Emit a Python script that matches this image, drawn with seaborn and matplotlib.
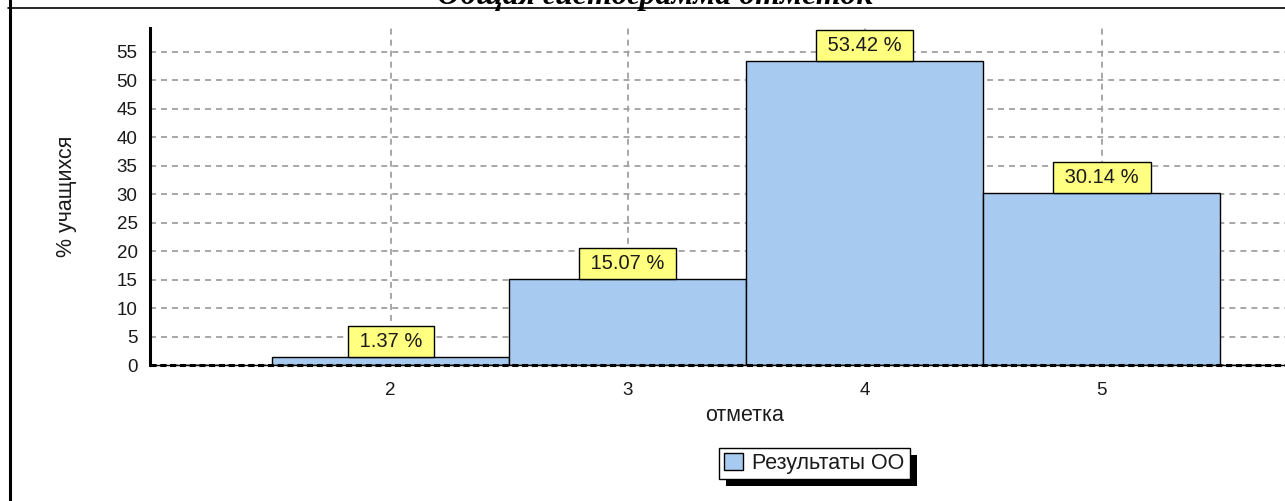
import matplotlib
matplotlib.use('Agg')
import matplotlib.pyplot as plt
from matplotlib.lines import Line2D
from matplotlib.patches import Rectangle
from matplotlib.ticker import MultipleLocator
import seaborn as sns
import pandas as pd

# ---------------------------------------------------------------
# Data.

grades = [2, 3, 4, 5]                       # отметка
percent = [1.37, 15.07, 53.42, 30.14]       # % учащихся
series_name = 'Результаты ОО'
title = 'Общая гистограмма отметок'
x_label = 'отметка'
y_label = '% учащихся'

df = pd.DataFrame({'grade': grades, 'percent': percent})

# ---------------------------------------------------------------
# Style.

sns.set_theme(style='white')
plt.rcParams['font.family'] = ['Liberation Sans', 'DejaVu Sans']
text_color = '#1a1a1a'
bar_color = '#a6caf0'
label_size = 15.5
value_size = 14.5

W, H = 1285, 501
fig = plt.figure(figsize=(W / 100, H / 100), dpi=100)
ax = fig.add_axes([150 / W, 136 / H, 1189 / W, 337 / H])

# Histogram bars (one bar per grade, height = percent).
sns.histplot(data=df, x='grade', weights='percent', discrete=True,
             color=bar_color, alpha=1, edgecolor='black', linewidth=1,
             label=series_name, ax=ax, zorder=2)

ax.set_xlim(0.985, 6.0)
ax.set_ylim(0, 59.2)

ax.set_xticks(grades)
ax.xaxis.set_minor_locator(MultipleLocator(0.25))
ax.yaxis.set_major_locator(MultipleLocator(5))
ax.yaxis.set_minor_locator(MultipleLocator(1))

ax.tick_params(axis='both', which='major', length=5, width=1, color='black',
               labelsize=13.5, labelcolor=text_color, direction='out')
ax.tick_params(axis='both', which='minor', length=2.5, width=0.8,
               color='#555555', direction='out')
ax.tick_params(axis='x', which='major', pad=7.5)
ax.tick_params(axis='y', which='major', pad=4)

ax.grid(True, which='major', color='#a0a0a0', linestyle=(0, (3.3, 2.8)),
        linewidth=1.3)
ax.set_axisbelow(True)

for side in ['top', 'right']:
    ax.spines[side].set_visible(False)
ax.spines['left'].set_linewidth(2.2)
ax.spines['left'].set_color('black')
ax.spines['bottom'].set_linewidth(1.0)
ax.spines['bottom'].set_color('black')
ax.axhline(0, color='black', linewidth=2.2, linestyle=(0, (2, 1.2)),
           zorder=4, clip_on=False)

ax.set_xlabel(x_label, fontsize=label_size, color=text_color)
ax.set_ylabel(y_label, fontsize=label_size, color=text_color)
ax.xaxis.set_label_coords(0.5, -0.119)
ax.yaxis.set_label_coords(-0.0614, 0.5)

# Value boxes on top of the bars.
pad = 0.3
for g, v in zip(grades, percent):
    ax.annotate(f' {v:.2f} % ', (g, v), xytext=(0, pad * value_size),
                textcoords='offset points', ha='center', va='bottom',
                fontsize=value_size, color=text_color, zorder=5,
                bbox=dict(boxstyle=f'square,pad={pad}', fc='#ffff80',
                          ec='black', lw=1))

# ---------------------------------------------------------------
# Legend with a solid black drop shadow.

handles, labels = ax.get_legend_handles_labels()
leg = fig.legend(handles, labels, loc='center',
                 bbox_to_anchor=(814.5 / W, 1 - 463.5 / H),
                 frameon=True, fancybox=False, edgecolor='black',
                 framealpha=1, fontsize=label_size, handlelength=0.85,
                 handleheight=0.85, handletextpad=0.45, borderpad=0.25,
                 borderaxespad=0, labelcolor=text_color)
leg.get_frame().set_linewidth(1)

fig.canvas.draw()
bb = leg.get_frame().get_window_extent().transformed(fig.transFigure.inverted())
shadow = Rectangle((bb.x0 + 7 / W, bb.y0 - 7 / H), bb.width, bb.height,
                   transform=fig.transFigure, facecolor='black',
                   edgecolor='none', zorder=leg.get_zorder() - 0.1)
fig.add_artist(shadow)

# ---------------------------------------------------------------
# Title (cut off at the top, as in the source) and the page frame lines.

fig.text(655 / W, 1 - 4 / H, title, ha='center', va='baseline', fontsize=23,
         family='Liberation Serif', weight='bold', style='italic',
         color='black')

fig.add_artist(Line2D([8 / W, 1], [1 - 8 / H, 1 - 8 / H],
                      transform=fig.transFigure, color='black', lw=1.2))
fig.add_artist(Line2D([9.5 / W, 9.5 / W], [0, 1],
                      transform=fig.transFigure, color='black', lw=2.2))

fig.savefig('out.png', dpi=100)
